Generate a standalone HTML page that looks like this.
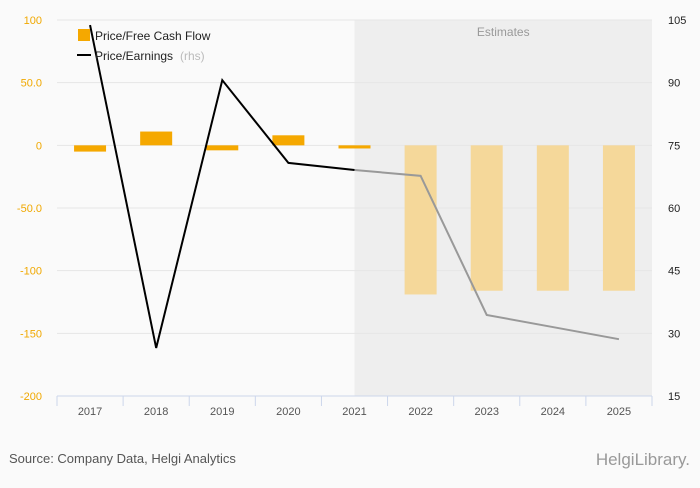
<!DOCTYPE html>
<html><head><meta charset="utf-8"><style>
body{margin:0;background:#fafafa;font-family:"Liberation Sans",sans-serif}
svg text{font-family:"Liberation Sans",sans-serif}
</style></head><body>
<svg id="c" width="700" height="483">
<rect width="700" height="483" fill="#fafafa"/>
</svg>
<script>
const categories=["2017","2018","2019","2020","2021","2022","2023","2024","2025"];
const pfcf=[-5,11,-4,8,-2.5,-119,-116,-116,-116];
const pe=[103.8,26.5,90.6,70.8,69.1,67.7,34.4,31.5,28.6];
const leftTicks=[100,50,0,-50,-100,-150,-200];
const leftLabels=["100","50.0","0","-50.0","-100","-150","-200"];
const rightTicks=[105,90,75,60,45,30,15];
const estStart=4;
const NS="http://www.w3.org/2000/svg";
const svg=document.getElementById('c');
const X0=57,X1=652,YT=20,YB=396;
const bw=(X1-X0)/categories.length;
const xc=i=>X0+bw*(i+0.5);
const yl=v=>YT+(100-v)/300*(YB-YT);
const yr=v=>YT+(105-v)/90*(YB-YT);
function el(t,a,txt){const e=document.createElementNS(NS,t);for(const k in a)e.setAttribute(k,a[k]);if(txt!=null)e.textContent=txt;svg.appendChild(e);return e;}
let e=el('rect',{x:xc(estStart),y:YT,width:X1-xc(estStart),height:YB-YT,fill:'#eeeeee'});


e=el('text',{x:(xc(estStart)+X1)/2,y:36,'text-anchor':'middle','font-size':12,fill:'#999'},'Estimates');


leftTicks.forEach((v,i)=>{
 e=el('line',{x1:X0,x2:X1,y1:yl(v),y2:yl(v),stroke:'#e6e6e6'});
 
 
 e=el('text',{x:42,y:yl(v)+4,'text-anchor':'end','font-size':11,fill:'#f0a800'},leftLabels[i]);
 
 
});
rightTicks.forEach(v=>{
 e=el('text',{x:668,y:yr(v)+4,'font-size':11,fill:'#222'},String(v));
 
 
});
categories.forEach((c,i)=>{
 const v=pfcf[i];
 e=el('rect',{x:xc(i)-16,y:Math.min(yl(v),yl(0)),width:32,height:Math.abs(yl(v)-yl(0)),fill:i>=estStart+1?'#f5d89a':'#f5a800'});
 
 
 e=el('text',{x:xc(i),y:415,'text-anchor':'middle','font-size':11,fill:'#555'},c);
 
 
});
e=el('line',{x1:X0,x2:X1,y1:YB,y2:YB,stroke:'#ccd6eb'});


for(let i=0;i<=categories.length;i++){
 e=el('line',{x1:X0+bw*i,x2:X0+bw*i,y1:YB,y2:YB+10,stroke:'#ccd6eb'});
 
 
}
const pts=pe.map((v,i)=>[xc(i),yr(v)]);
e=el('polyline',{points:pts.slice(0,estStart+1).join(' '),fill:'none',stroke:'#000','stroke-width':2});


e=el('polyline',{points:pts.slice(estStart).join(' '),fill:'none',stroke:'#999','stroke-width':2});


e=el('rect',{x:78,y:29,width:12,height:12,fill:'#f5a800'});


e=el('text',{x:95,y:40,'font-size':12,fill:'#222'},'Price/Free Cash Flow');


e=el('line',{x1:77,x2:91,y1:55,y2:55,stroke:'#000','stroke-width':2});


e=el('text',{x:95,y:60,'font-size':12,fill:'#222'},'Price/Earnings ');


e=el('text',{x:180,y:60,'font-size':12,fill:'#bbb'},'(rhs)');


e=el('text',{x:9,y:463,'font-size':13,fill:'#555'},'Source: Company Data, Helgi Analytics');


e=el('text',{x:690,y:465,'text-anchor':'end','font-size':17,fill:'#999','font-family':'Liberation Serif'},'HelgiLibrary.');


</script>
</body></html>
